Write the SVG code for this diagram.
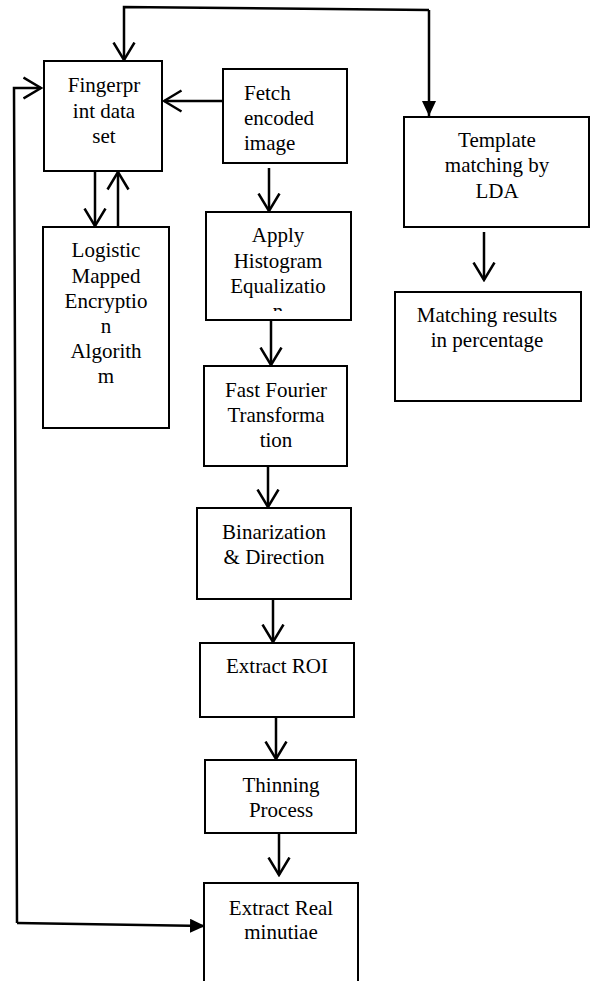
<svg xmlns="http://www.w3.org/2000/svg" width="590" height="981" viewBox="0 0 590 981">
  <style>
    .box { fill: #ffffff; stroke: #000000; stroke-width: 2; }
    .lbl { font-family: "Liberation Serif", "DejaVu Serif", serif; font-size: 21px; fill: #000000; text-anchor: middle; }
    .lbl.left { text-anchor: start; }
    .wire { fill: none; stroke: #000000; stroke-width: 2.5; }
    .open { marker-end: url(#openHead); }
    .solid { marker-end: url(#solidHead); }
  </style>
  <defs>
    <marker id="openHead" markerUnits="userSpaceOnUse" viewBox="0 0 20 24" markerWidth="20" markerHeight="24" refX="18.5" refY="12" orient="auto">
      <path d="M1,1.5 L18.5,12 L1,22.5" fill="none" stroke="#000000" stroke-width="2.5"/>
    </marker>
    <marker id="solidHead" markerUnits="userSpaceOnUse" viewBox="0 0 16 14" markerWidth="16" markerHeight="14" refX="15" refY="7" orient="auto">
      <path d="M0,0 L15,7 L0,14 Z" fill="#000000"/>
    </marker>
    <clipPath id="histClip">
      <rect x="206" y="212" width="145" height="99"/>
    </clipPath>
  </defs>

  <!-- connectors -->
  <g id="connectors">
    <path class="wire open" d="M429,10 L124,7 L124,60"/>
    <path class="wire solid" d="M429,10 L429,116"/>
    <path class="wire open" d="M222,101 L164,101"/>
    <path class="wire open" d="M95,171 L95,226"/>
    <path class="wire open" d="M118,227 L118,172"/>
    <path class="wire open" d="M269,168 L269,211"/>
    <path class="wire open" d="M271,320 L271,365"/>
    <path class="wire open" d="M268,466 L268,507"/>
    <path class="wire open" d="M273,599 L273,642"/>
    <path class="wire open" d="M276,717 L276,759"/>
    <path class="wire open" d="M279,833 L279,875"/>
    <path class="wire open" d="M484,232 L484,280"/>
    <path class="wire open" d="M17,923 L14,88 L41,88"/>
    <path class="wire solid" d="M17,923 L205,926"/>
  </g>

  <g id="fingerprint-dataset">
    <rect class="box" x="44" y="61" width="118" height="110"/>
    <text class="lbl" x="104" y="92" font-family="Liberation Serif, serif">Fingerpr</text>
    <text class="lbl" x="104" y="118" font-family="Liberation Serif, serif">int data</text>
    <text class="lbl" x="104" y="143" font-family="Liberation Serif, serif">set</text>
  </g>

  <g id="fetch-encoded-image">
    <rect class="box" x="223" y="69" width="124" height="94"/>
    <text class="lbl left" x="244" y="100">Fetch</text>
    <text class="lbl left" x="244" y="125">encoded</text>
    <text class="lbl left" x="244" y="150">image</text>
  </g>

  <g id="logistic-encryption">
    <rect class="box" x="43" y="227" width="126" height="201"/>
    <text class="lbl" x="106" y="257">Logistic</text>
    <text class="lbl" x="106" y="283">Mapped</text>
    <text class="lbl" x="106" y="308">Encryptio</text>
    <text class="lbl" x="106" y="333">n</text>
    <text class="lbl" x="106" y="358">Algorith</text>
    <text class="lbl" x="106" y="383">m</text>
  </g>

  <g id="histogram-equalization">
    <rect class="box" x="206" y="212" width="145" height="108"/>
    <g clip-path="url(#histClip)">
      <text class="lbl" x="278" y="242">Apply</text>
      <text class="lbl" x="278" y="268">Histogram</text>
      <text class="lbl" x="278" y="293">Equalizatio</text>
      <text class="lbl" x="278" y="318">n</text>
    </g>
  </g>

  <g id="fft">
    <rect class="box" x="204" y="366" width="143" height="100"/>
    <text class="lbl" x="276" y="397">Fast Fourier</text>
    <text class="lbl" x="276" y="422">Transforma</text>
    <text class="lbl" x="276" y="447">tion</text>
  </g>

  <g id="binarization">
    <rect class="box" x="197" y="508" width="154" height="91"/>
    <text class="lbl" x="274" y="539">Binarization</text>
    <text class="lbl" x="274" y="564">&amp; Direction</text>
  </g>

  <g id="extract-roi">
    <rect class="box" x="200" y="643" width="154" height="74"/>
    <text class="lbl" x="277" y="673">Extract ROI</text>
  </g>

  <g id="thinning">
    <rect class="box" x="205" y="760" width="151" height="73"/>
    <text class="lbl" x="281" y="792">Thinning</text>
    <text class="lbl" x="281" y="817">Process</text>
  </g>

  <g id="extract-minutiae">
    <rect class="box" x="204" y="883" width="154" height="110"/>
    <text class="lbl" x="281" y="915">Extract Real</text>
    <text class="lbl" x="281" y="939">minutiae</text>
  </g>

  <g id="template-matching">
    <rect class="box" x="404" y="117" width="185" height="110"/>
    <text class="lbl" x="497" y="147">Template</text>
    <text class="lbl" x="497" y="172">matching by</text>
    <text class="lbl" x="497" y="198">LDA</text>
  </g>

  <g id="matching-results">
    <rect class="box" x="395" y="292" width="186" height="109"/>
    <text class="lbl" x="487" y="322">Matching results</text>
    <text class="lbl" x="487" y="347">in percentage</text>
  </g>
</svg>
